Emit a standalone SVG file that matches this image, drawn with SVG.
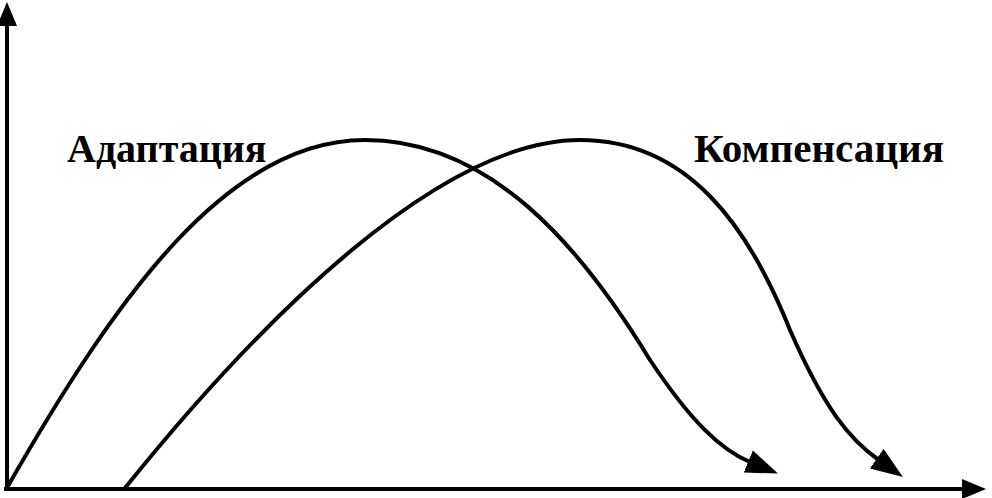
<svg xmlns="http://www.w3.org/2000/svg" width="992" height="498" viewBox="0 0 992 498">
<style>
.ax{stroke:#000;stroke-width:4;fill:none}
.cv{stroke:#000;stroke-width:4;fill:none}
.lb{font-family:"Liberation Serif",serif;font-weight:bold;font-size:40px;fill:#000}
</style>
<defs>
<marker id="ah" markerWidth="8" markerHeight="6" refX="1" refY="3" orient="auto" markerUnits="strokeWidth">
<path d="M0,0 L8,3 L0,6 Z" fill="#000"/>
</marker>
<marker id="axh" markerWidth="6" markerHeight="6" refX="1" refY="3" orient="auto" markerUnits="strokeWidth">
<path d="M0,0.5 L6,3 L0,5.5 Z" fill="#000"/>
</marker>
</defs>
<g id="connectors">
<line class="ax" x1="7" y1="490" x2="7" y2="22" marker-end="url(#axh)"/>
<line class="ax" x1="4" y1="489" x2="966" y2="489" marker-end="url(#axh)"/>
<path id="adapt" class="cv" d="M8,486 C120,290 230,140 365,140 C490,140 580,245 650,360 C690,420 720,450 752,463" marker-end="url(#ah)"/>
<path id="comp" class="cv" d="M125,488 C260,320 440,140 580,140 C690,140 750,230 790,330 C825,410 850,440 880,461" marker-end="url(#ah)"/>
</g>
<g id="label-adapt"><text class="lb" x="67" y="162">Адаптация</text></g>
<g id="label-comp"><text class="lb" x="694" y="162" textLength="250" lengthAdjust="spacingAndGlyphs">Компенсация</text></g>
</svg>
